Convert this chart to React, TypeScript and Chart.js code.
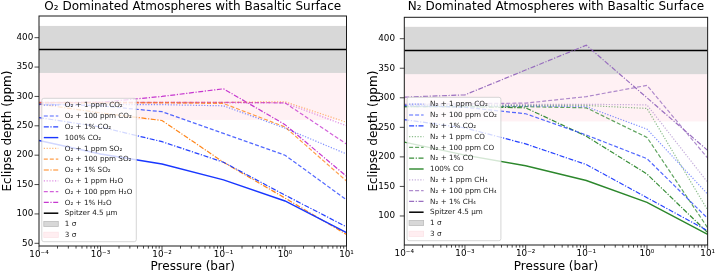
import React, { useEffect, useRef } from 'react';
import { Chart, registerables } from 'chart.js';

Chart.register(...registerables);

const FONT = '"DejaVu Sans", sans-serif';

// ---- shared axes / reference values ----
const PRESSURE_BAR = [1e-4, 1e-3, 1e-2, 1e-1, 1, 10];
const X_TICK_VALUES = [1e-4, 1e-3, 1e-2, 1e-1, 1, 10];
const X_TICK_LABELS = ['10⁻⁴', '10⁻³', '10⁻²', '10⁻¹', '10⁰', '10¹'];
const Y_TICKS_O2 = [50, 100, 150, 200, 250, 300, 350, 400];
const Y_TICKS_N2 = [100, 150, 200, 250, 300, 350, 400];

const SPITZER_PPM = 380;
const SIGMA1_BAND = [340, 420];
const SIGMA3_BAND = [260, 420];

// ---- O2 dominated panel (eclipse depth, ppm) ----
const O2_CO2_1PPM = [286, 286, 286, 284, 246, 202];
const O2_CO2_100PPM = [287, 284, 274, 237, 200, 124];
const O2_CO2_1PCT = [264, 248, 223, 188, 132, 78];
const CO2_100PCT = [225, 202, 185, 158, 122, 68];
const O2_SO2_1PPM = [290, 290, 290, 290, 291, 256];
const O2_SO2_100PPM = [289, 289, 289, 288, 248, 156];
const O2_SO2_1PCT = [287, 272, 259, 188, 127, 65];
const O2_H2O_1PPM = [289, 289, 289, 289, 289, 250];
const O2_H2O_100PPM = [290, 290, 290, 290, 289, 219];
const O2_H2O_1PCT = [289, 290, 300, 313, 252, 164];

// ---- N2 dominated panel (eclipse depth, ppm) ----
const N2_CO2_1PPM = [286, 286, 286, 285, 247, 137];
const N2_CO2_100PPM = [287, 284, 273, 237, 197, 96];
const N2_CO2_1PCT = [263, 249, 222, 187, 131, 75];
const N2_CO_1PPM = [287, 287, 287, 287, 282, 110];
const N2_CO_100PPM = [285, 285, 285, 283, 233, 80];
const N2_CO_1PCT = [285, 285, 283, 235, 171, 72];
const CO_100PCT = [225, 203, 185, 160, 123, 69];
const N2_CH4_1PPM = [289, 289, 289, 289, 288, 157];
const N2_CH4_100PPM = [289, 290, 291, 302, 321, 198];
const N2_CH4_1PCT = [301, 305, 347, 389, 300, 211];

// ---- styles ----
const BLUE = '25,55,255';
const ORANGE = '255,127,14';
const MAGENTA = '195,45,205';
const GREEN = '44,135,44';
const PURPLE = '148,103,189';
const PINK_FILL = 'rgba(255,192,203,0.22)';
const GRAY_FILL = 'rgb(216,216,216)';

type LineStyle = 'dot' | 'dash' | 'dashdot' | 'solid';
const STYLES: Record<LineStyle, { dash: number[]; alpha: number; width: number }> = {
  dot: { dash: [1.2, 1.6], alpha: 0.55, width: 1.2 },
  dash: { dash: [4, 2], alpha: 0.75, width: 1.2 },
  dashdot: { dash: [5, 1.6, 1.2, 1.6], alpha: 0.95, width: 1.2 },
  solid: { dash: [], alpha: 1, width: 1.4 },
};

interface Series { label: string; values: number[]; rgb: string; style: LineStyle }

const O2_SERIES: Series[] = [
  { label: 'O₂ + 1 ppm CO₂', values: O2_CO2_1PPM, rgb: BLUE, style: 'dot' },
  { label: 'O₂ + 100 ppm CO₂', values: O2_CO2_100PPM, rgb: BLUE, style: 'dash' },
  { label: 'O₂ + 1% CO₂', values: O2_CO2_1PCT, rgb: BLUE, style: 'dashdot' },
  { label: '100% CO₂', values: CO2_100PCT, rgb: BLUE, style: 'solid' },
  { label: 'O₂ + 1 ppm SO₂', values: O2_SO2_1PPM, rgb: ORANGE, style: 'dot' },
  { label: 'O₂ + 100 ppm SO₂', values: O2_SO2_100PPM, rgb: ORANGE, style: 'dash' },
  { label: 'O₂ + 1% SO₂', values: O2_SO2_1PCT, rgb: ORANGE, style: 'dashdot' },
  { label: 'O₂ + 1 ppm H₂O', values: O2_H2O_1PPM, rgb: MAGENTA, style: 'dot' },
  { label: 'O₂ + 100 ppm H₂O', values: O2_H2O_100PPM, rgb: MAGENTA, style: 'dash' },
  { label: 'O₂ + 1% H₂O', values: O2_H2O_1PCT, rgb: MAGENTA, style: 'dashdot' },
];

const N2_SERIES: Series[] = [
  { label: 'N₂ + 1 ppm CO₂', values: N2_CO2_1PPM, rgb: BLUE, style: 'dot' },
  { label: 'N₂ + 100 ppm CO₂', values: N2_CO2_100PPM, rgb: BLUE, style: 'dash' },
  { label: 'N₂ + 1% CO₂', values: N2_CO2_1PCT, rgb: BLUE, style: 'dashdot' },
  { label: 'N₂ + 1 ppm CO', values: N2_CO_1PPM, rgb: GREEN, style: 'dot' },
  { label: 'N₂ + 100 ppm CO', values: N2_CO_100PPM, rgb: GREEN, style: 'dash' },
  { label: 'N₂ + 1% CO', values: N2_CO_1PCT, rgb: GREEN, style: 'dashdot' },
  { label: '100% CO', values: CO_100PCT, rgb: GREEN, style: 'solid' },
  { label: 'N₂ + 1 ppm CH₄', values: N2_CH4_1PPM, rgb: PURPLE, style: 'dot' },
  { label: 'N₂ + 100 ppm CH₄', values: N2_CH4_100PPM, rgb: PURPLE, style: 'dash' },
  { label: 'N₂ + 1% CH₄', values: N2_CH4_1PCT, rgb: PURPLE, style: 'dashdot' },
];

interface Panel {
  title: string;
  series: Series[];
  yMin: number;
  yMax: number;
  yTicks: number[];
  yAxisWidth: number;
  yTickPad: number;
  yTitlePad: number;
  titleGap: number;
  padRight: number;
  xAxisHeight: number;
}

const PANELS: Panel[] = [
  {
    title: 'O₂ Dominated Atmospheres with Basaltic Surface',
    series: O2_SERIES,
    yMin: 45.4, yMax: 436.9, yTicks: Y_TICKS_O2,
    yAxisWidth: 39, yTickPad: 5.7, yTitlePad: 0.3, titleGap: 1.6, padRight: 12.5, xAxisHeight: 29,
  },
  {
    title: 'N₂ Dominated Atmospheres with Basaltic Surface',
    series: N2_SERIES,
    yMin: 50.9, yMax: 436.2, yTicks: Y_TICKS_N2,
    yAxisWidth: 45.3, yTickPad: 9.3, yTitlePad: 7.5, titleGap: 2.9, padRight: 9, xAxisHeight: 30,
  },
];

function makeDecor(panel: Panel) {
  return {
    id: 'decor',
    beforeDatasetsDraw(chart: any) {
      const { ctx, chartArea: a, scales } = chart;
      const y = scales.y;
      ctx.save();
      ctx.beginPath();
      ctx.rect(a.left, a.top, a.right - a.left, a.bottom - a.top);
      ctx.clip();
      const band = (lo: number, hi: number, color: string) => {
        const y1 = y.getPixelForValue(hi);
        const y0 = y.getPixelForValue(lo);
        ctx.fillStyle = color;
        ctx.fillRect(a.left, y1, a.right - a.left, y0 - y1);
      };
      band(SIGMA3_BAND[0], SIGMA3_BAND[1], PINK_FILL);
      band(SIGMA1_BAND[0], SIGMA1_BAND[1], GRAY_FILL);
      ctx.restore();
    },
    afterDatasetsDraw(chart: any) {
      const { ctx, chartArea: a, scales } = chart;
      const x = scales.x;
      const y = scales.y;
      ctx.save();
      // frame
      ctx.strokeStyle = '#1a1a1a';
      ctx.lineWidth = 1;
      ctx.setLineDash([]);
      ctx.strokeRect(a.left, a.top, a.right - a.left, a.bottom - a.top);
      // ticks
      ctx.lineWidth = 0.8;
      ctx.beginPath();
      panel.yTicks.forEach((v) => {
        const py = y.getPixelForValue(v);
        ctx.moveTo(a.left - 4.5, py);
        ctx.lineTo(a.left, py);
      });
      X_TICK_VALUES.forEach((v) => {
        const px = x.getPixelForValue(v);
        ctx.moveTo(px, a.bottom);
        ctx.lineTo(px, a.bottom + 4.5);
      });
      for (let e = -4; e < 1; e++) {
        for (let k = 2; k <= 9; k++) {
          const px = x.getPixelForValue(k * Math.pow(10, e));
          ctx.moveTo(px, a.bottom);
          ctx.lineTo(px, a.bottom + 2.6);
        }
      }
      ctx.stroke();

      // legend
      const fs = 7.2;
      ctx.font = `${fs}px ${FONT}`;
      const items: any[] = chart.data.datasets
        .filter((d: any) => d.label)
        .map((d: any) => ({ label: d.label, kind: 'line', color: d.borderColor, dash: d.borderDash || [], width: d.borderWidth }));
      items.push({ label: '1 σ', kind: 'patch', color: GRAY_FILL, edge: 'rgb(190,190,190)' });
      items.push({ label: '3 σ', kind: 'patch', color: 'rgb(255,238,241)', edge: 'rgb(252,228,232)' });
      const rowH = 10.8;
      const maxW = Math.max(...items.map((it) => ctx.measureText(it.label).width));
      const boxW = 23 + maxW + 4;
      const boxH = items.length * rowH + 3;
      const bx = a.left + 2.8;
      const by = a.bottom - 4.3 - boxH;
      ctx.beginPath();
      ctx.roundRect(bx, by, boxW, boxH, 2);
      ctx.fillStyle = 'rgba(255,255,255,0.8)';
      ctx.fill();
      ctx.strokeStyle = 'rgba(204,204,204,0.8)';
      ctx.lineWidth = 1;
      ctx.stroke();
      items.forEach((it, i) => {
        const cy = by + 1.5 + rowH * (i + 0.5);
        if (it.kind === 'line') {
          ctx.beginPath();
          ctx.setLineDash(it.dash);
          ctx.strokeStyle = it.color;
          ctx.lineWidth = it.width;
          ctx.moveTo(bx + 2, cy);
          ctx.lineTo(bx + 16.5, cy);
          ctx.stroke();
          ctx.setLineDash([]);
        } else {
          ctx.fillStyle = it.color;
          ctx.fillRect(bx + 2, cy - 2.6, 14.5, 5.2);
          ctx.strokeStyle = it.edge;
          ctx.lineWidth = 0.8;
          ctx.strokeRect(bx + 2, cy - 2.6, 14.5, 5.2);
        }
        ctx.fillStyle = '#1a1a1a';
        ctx.textAlign = 'left';
        ctx.textBaseline = 'middle';
        ctx.fillText(it.label, bx + 23, cy + 0.3);
      });
      ctx.restore();
    },
  };
}

function buildConfig(panel: Panel): any {
  const datasets: any[] = panel.series.map((s) => {
    const st = STYLES[s.style];
    return {
      label: s.label,
      data: PRESSURE_BAR.map((p, i) => ({ x: p, y: s.values[i] })),
      borderColor: `rgba(${s.rgb},${st.alpha})`,
      backgroundColor: `rgba(${s.rgb},${st.alpha})`,
      borderDash: st.dash,
      borderWidth: st.width,
      pointRadius: 0,
      tension: 0,
      fill: false,
    };
  });
  datasets.push({
    label: 'Spitzer 4.5 μm',
    data: [{ x: PRESSURE_BAR[0], y: SPITZER_PPM }, { x: PRESSURE_BAR[PRESSURE_BAR.length - 1], y: SPITZER_PPM }],
    borderColor: '#000',
    backgroundColor: '#000',
    borderDash: [],
    borderWidth: 1.5,
    pointRadius: 0,
    fill: false,
  });

  return {
    type: 'line',
    data: { datasets },
    plugins: [makeDecor(panel)],
    options: {
      responsive: false,
      animation: false,
      events: [],
      layout: { padding: { left: 0, right: panel.padRight, top: 0, bottom: 0 } },
      plugins: {
        legend: { display: false },
        tooltip: { enabled: false },
        title: {
          display: true,
          text: panel.title,
          color: '#000',
          fullSize: false,
          font: { family: FONT, size: 12, weight: 'normal', lineHeight: 1.2 },
          padding: { top: 0, bottom: panel.titleGap },
        },
      },
      scales: {
        x: {
          type: 'logarithmic',
          min: X_TICK_VALUES[0],
          max: X_TICK_VALUES[X_TICK_VALUES.length - 1],
          afterBuildTicks: (s: any) => {
            s.ticks = X_TICK_VALUES.map((v) => ({ value: v, major: true }));
          },
          afterFit: (s: any) => {
            s.height = panel.xAxisHeight;
          },
          ticks: {
            autoSkip: false,
            maxRotation: 0,
            padding: 3,
            color: '#000',
            font: { family: FONT, size: 8.8 },
            callback: (_v: any, i: number) => X_TICK_LABELS[i],
          },
          grid: { display: false, drawTicks: false },
          border: { display: false },
          title: {
            display: true,
            text: 'Pressure (bar)',
            color: '#000',
            font: { family: FONT, size: 12 },
            padding: { top: 0, bottom: 1.2 },
          },
        },
        y: {
          type: 'linear',
          min: panel.yMin,
          max: panel.yMax,
          afterBuildTicks: (s: any) => {
            s.ticks = panel.yTicks.map((v) => ({ value: v }));
          },
          afterFit: (s: any) => {
            s.width = panel.yAxisWidth;
          },
          ticks: {
            padding: panel.yTickPad,
            color: '#000',
            font: { family: FONT, size: 8.8 },
          },
          grid: { display: false, drawTicks: false },
          border: { display: false },
          title: {
            display: true,
            text: 'Eclipse depth (ppm)',
            color: '#000',
            font: { family: FONT, size: 12 },
            padding: { top: panel.yTitlePad, bottom: 0 },
          },
        },
      },
    },
  };
}

function PanelChart({ panel, left }: { panel: Panel; left: number }) {
  const ref = useRef<HTMLCanvasElement | null>(null);
  useEffect(() => {
    if (!ref.current) return;
    const chart = new Chart(ref.current, buildConfig(panel));
    return () => chart.destroy();
  }, [panel]);
  return (
    <div style={{ position: 'absolute', left, top: 0, width: 359, height: 275 }}>
      <canvas ref={ref} width={359} height={275} style={{ display: 'block', width: 359, height: 275 }} />
    </div>
  );
}

export default function App() {
  return (
    <div style={{ position: 'fixed', left: 0, top: 0, width: 718, height: 275, background: '#fff', overflow: 'hidden' }}>
      <PanelChart panel={PANELS[0]} left={0} />
      <PanelChart panel={PANELS[1]} left={359} />
    </div>
  );
}
